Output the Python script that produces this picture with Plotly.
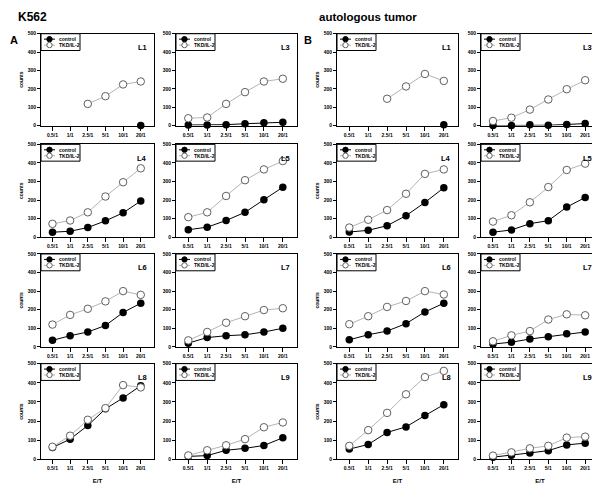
import plotly.graph_objects as go

categories = ["0.5/1", "1/1", "2.5/1", "5/1", "10/1", "20/1"]
yticks = [0, 100, 200, 300, 400, 500]
series_names = ["control", "TKD/IL-2"]

# K562 targets (A)
a_L1_control = [None, None, None, None, None, 0]
a_L1_tkd = [None, None, 118, 160, 224, 240]
a_L3_control = [3, 3, 5, 10, 15, 18]
a_L3_tkd = [40, 44, 118, 182, 240, 255]
a_L4_control = [27, 32, 52, 88, 131, 195]
a_L4_tkd = [72, 90, 134, 219, 296, 371]
a_L5_control = [40, 54, 90, 134, 202, 269]
a_L5_tkd = [108, 134, 222, 307, 365, 410]
a_L6_control = [35, 60, 80, 115, 185, 235]
a_L6_tkd = [120, 172, 205, 245, 300, 280]
a_L7_control = [20, 50, 60, 65, 80, 100]
a_L7_tkd = [35, 80, 130, 165, 198, 208]
a_L8_control = [62, 106, 177, 264, 321, 385]
a_L8_tkd = [66, 124, 207, 268, 388, 376]
a_L9_control = [16, 20, 48, 58, 73, 113]
a_L9_tkd = [21, 48, 74, 106, 168, 193]

# autologous tumor targets (B)
b_L1_control = [None, None, None, None, None, 5]
b_L1_tkd = [None, None, 146, 213, 281, 243]
b_L3_control = [0, 0, 4, 2, 6, 11]
b_L3_tkd = [25, 43, 87, 142, 198, 247]
b_L4_control = [28, 37, 62, 116, 187, 266]
b_L4_tkd = [52, 94, 146, 234, 341, 365]
b_L5_control = [27, 39, 73, 89, 162, 214]
b_L5_tkd = [84, 118, 188, 270, 362, 396]
b_L6_control = [38, 65, 85, 125, 188, 235]
b_L6_tkd = [122, 165, 215, 247, 300, 282]
b_L7_control = [15, 25, 42, 55, 70, 80]
b_L7_tkd = [30, 62, 85, 147, 175, 170]
b_L8_control = [54, 78, 141, 170, 229, 286]
b_L8_tkd = [71, 153, 243, 340, 430, 462]
b_L9_control = [12, 22, 34, 46, 76, 85]
b_L9_tkd = [20, 37, 58, 71, 114, 119]

grid = [
    [("L1", a_L1_control, a_L1_tkd), ("L3", a_L3_control, a_L3_tkd),
     ("L1", b_L1_control, b_L1_tkd), ("L3", b_L3_control, b_L3_tkd)],
    [("L4", a_L4_control, a_L4_tkd), ("L5", a_L5_control, a_L5_tkd),
     ("L4", b_L4_control, b_L4_tkd), ("L5", b_L5_control, b_L5_tkd)],
    [("L6", a_L6_control, a_L6_tkd), ("L7", a_L7_control, a_L7_tkd),
     ("L6", b_L6_control, b_L6_tkd), ("L7", b_L7_control, b_L7_tkd)],
    [("L8", a_L8_control, a_L8_tkd), ("L9", a_L9_control, a_L9_tkd),
     ("L8", b_L8_control, b_L8_tkd), ("L9", b_L9_control, b_L9_tkd)],
]

W, H = 600, 491
col_px = [(33, 146), (168, 289), (329, 450), (473, 591)]
row_px = [(23, 116), (135, 229), (246, 340), (357, 454)]

FONT = "Liberation Sans, Arial, sans-serif"
CTRL_COLOR = "black"
TKD_LINE = "#b4b4b4"
TKD_EDGE = "#606060"


def px(x):
    return x / W


def py(y):
    return 1 - y / H


fig = go.Figure()
layout = {}
annotations = []
shapes = []
xidx = list(range(len(categories)))

for r in range(4):
    for c in range(4):
        n = r * 4 + c + 1
        sfx = "" if n == 1 else str(n)
        lab, ctrl, tkd = grid[r][c]
        fig.add_trace(go.Scatter(
            x=xidx, y=ctrl, name=series_names[0], mode="lines+markers",
            line=dict(color=CTRL_COLOR, width=1), cliponaxis=False,
            marker=dict(symbol="circle", size=7.5, color=CTRL_COLOR),
            xaxis=f"x{sfx}", yaxis=f"y{sfx}", showlegend=False))
        fig.add_trace(go.Scatter(
            x=xidx, y=tkd, name=series_names[1], mode="lines+markers",
            line=dict(color=TKD_LINE, width=1), cliponaxis=False,
            marker=dict(symbol="circle", size=7.5, color="white",
                        line=dict(color=TKD_EDGE, width=1)),
            xaxis=f"x{sfx}", yaxis=f"y{sfx}", showlegend=False))
        L, R = col_px[c]
        T, B = row_px[r]
        layout[f"xaxis{sfx}"] = dict(
            domain=[px(L), px(R)], anchor=f"y{sfx}", range=[-0.65, 5.75],
            tickmode="array", tickvals=xidx, ticktext=categories,
            showline=True, mirror=True, linecolor="black", linewidth=1,
            ticks="outside", ticklen=4, tickcolor="black", showgrid=False,
            zeroline=False,
            tickfont=dict(family=FONT, size=5, color="black", weight="bold"),
            title=dict(text="E/T" if r == 3 else "", standoff=8,
                       font=dict(family=FONT, size=6, color="black", weight="bold")))
        layout[f"yaxis{sfx}"] = dict(
            domain=[py(B), py(T)], anchor=f"x{sfx}", range=[0, 500],
            tickmode="array", tickvals=yticks,
            showline=True, mirror=True, linecolor="black", linewidth=1,
            ticks="outside", ticklen=3, tickcolor="black", showgrid=False,
            zeroline=False,
            tickfont=dict(family=FONT, size=5, color="black", weight="bold"),
            title=dict(text="counts" if c in (0, 2) else "", standoff=3,
                       font=dict(family=FONT, size=5, color="black", weight="bold")))
        # panel label
        annotations.append(dict(
            text=lab, xref=f"x{sfx} domain", yref=f"y{sfx} domain",
            x=0.96, y=0.92, xanchor="right", yanchor="top", showarrow=False,
            font=dict(family=FONT, size=7.5, color="black", weight="bold")))
        # legend box (drawn in pixel units at top-left of panel)
        lx, ly = L, T
        shapes.append(dict(type="rect", xref="paper", yref="paper",
                           x0=px(lx), x1=px(lx + 39), y0=py(ly + 17), y1=py(ly),
                           line=dict(color="black", width=1), fillcolor="white"))
        for k, (name, ycen) in enumerate([(series_names[0], ly + 5.5), (series_names[1], ly + 11.5)]):
            lc = CTRL_COLOR if k == 0 else TKD_LINE
            shapes.append(dict(type="line", xref="paper", yref="paper",
                               x0=px(lx + 3), x1=px(lx + 14), y0=py(ycen), y1=py(ycen),
                               line=dict(color=lc, width=1)))
            shapes.append(dict(type="circle", xref="paper", yref="paper",
                               x0=px(lx + 5.8), x1=px(lx + 11.2),
                               y0=py(ycen + 2.7), y1=py(ycen - 2.7),
                               fillcolor=CTRL_COLOR if k == 0 else "white",
                               line=dict(color=CTRL_COLOR if k == 0 else TKD_EDGE, width=1)))
            annotations.append(dict(
                text=name, xref="paper", yref="paper", x=px(lx + 16), y=py(ycen),
                xanchor="left", yanchor="middle", showarrow=False,
                font=dict(family=FONT, size=5, color="black", weight="bold")))

annotations += [
    dict(text="A", xref="paper", yref="paper", x=px(0), y=py(29),
         xanchor="left", yanchor="middle", showarrow=False,
         font=dict(family=FONT, size=11, color="black", weight="bold")),
    dict(text="K562", xref="paper", yref="paper", x=px(8), y=py(6),
         xanchor="left", yanchor="middle", showarrow=False,
         font=dict(family=FONT, size=12, color="black", weight="bold")),
    dict(text="B", xref="paper", yref="paper", x=px(294), y=py(29),
         xanchor="left", yanchor="middle", showarrow=False,
         font=dict(family=FONT, size=11, color="black", weight="bold")),
    dict(text="autologous tumor", xref="paper", yref="paper", x=px(309), y=py(6),
         xanchor="left", yanchor="middle", showarrow=False,
         font=dict(family=FONT, size=11.5, color="black", weight="bold")),
]

fig.update_layout(
    width=W, height=H, margin=dict(l=0, r=0, t=0, b=0),
    paper_bgcolor="white", plot_bgcolor="white",
    showlegend=False, annotations=annotations, shapes=shapes, **layout)

fig.write_html("out.html")
